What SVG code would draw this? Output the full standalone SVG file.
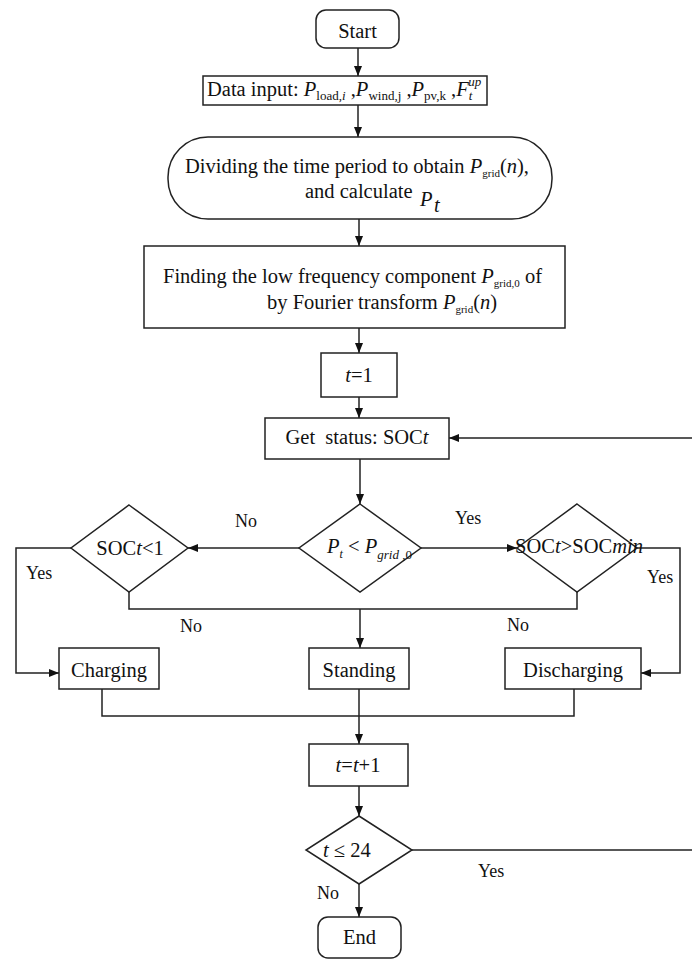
<svg xmlns="http://www.w3.org/2000/svg" width="692" height="960" viewBox="0 0 692 960">
<style>
.s{fill:#fff;stroke:#222;stroke-width:1.5}
.c{fill:none;stroke:#222;stroke-width:1.5}
text{font-family:"Liberation Serif","Times New Roman",serif;fill:#111;font-size:20.5px}
.m{text-anchor:middle}
.i{font-style:italic}
.l{font-size:18px}
</style>
<defs>
<marker id="a" markerWidth="10" markerHeight="8" refX="10" refY="4" orient="auto" markerUnits="userSpaceOnUse">
<path d="M0,0 L10,4 L0,8 z" fill="#111"/>
</marker>
</defs>
<rect width="692" height="960" fill="#fff"/>
<g id="connectors" class="c" marker-end="url(#a)">
<path d="M358,48 V76"/>
<path d="M358,105 V137"/>
<path d="M359,219 V246"/>
<path d="M359,328 V353"/>
<path d="M359,397 V418"/>
<path d="M360,459 V504"/>
<path d="M301,548 H188"/>
<path d="M421,548 H517"/>
<path d="M71,548 H16 V673 H59"/>
<path d="M637,548 H680 V673 H641"/>
<path d="M129,592 V609 H577 V592" marker-end="none"/>
<path d="M360,609 V648"/>
<path d="M102,689 V716 H574 V689" marker-end="none"/>
<path d="M359,689 V744"/>
<path d="M359,786 V816"/>
<path d="M359,884 V917"/>
<path d="M412,850 H700 V438 H449"/>
</g>
<g id="start"><rect class="s" x="316" y="10" width="83" height="38" rx="10"/><text class="m" x="357.5" y="38">Start</text></g>
<g id="data"><rect class="s" x="203" y="76" width="284" height="29"/>
<text x="207" y="96" font-size="21.5">Data input: <tspan class="i">P</tspan><tspan font-size="13" dy="4">load,</tspan><tspan class="i" font-size="13">i</tspan><tspan dy="-4"> ,</tspan><tspan class="i">P</tspan><tspan font-size="13" dy="4">wind,j</tspan><tspan dy="-4"> ,</tspan><tspan class="i">P</tspan><tspan font-size="13" dy="4">pv,k</tspan><tspan dy="-4"> ,</tspan><tspan class="i">F</tspan><tspan class="i" font-size="13" dy="4">t</tspan><tspan class="i" font-size="13" dx="-4" dy="-14">up</tspan></text></g>
<g id="divide"><rect class="s" x="168" y="137" width="384" height="82" rx="40"/>
<text x="185" y="173" font-size="20">Dividing the time period to obtain <tspan class="i">P</tspan><tspan font-size="11" dy="4">grid</tspan><tspan dy="-4">(</tspan><tspan class="i">n</tspan>),</text>
<text x="305" y="198" font-size="20">and calculate</text>
<text x="420" y="206" font-size="28" class="i">P</text><text x="434" y="212" font-size="13" class="i">t</text></g>
<g id="fourier"><rect class="s" x="144" y="246" width="421" height="82"/>
<text x="163" y="283">Finding the low frequency component <tspan class="i">P</tspan><tspan font-size="11" dy="4">grid,0</tspan><tspan dy="-4"> of</tspan></text>
<text x="267" y="309">by Fourier transform <tspan class="i">P</tspan><tspan font-size="11" dy="4">grid</tspan><tspan dy="-4">(</tspan><tspan class="i">n</tspan>)</text></g>
<g id="t1"><rect class="s" x="321" y="353" width="76" height="44"/><text class="m" x="359" y="382"><tspan class="i">t</tspan>=1</text></g>
<g id="status"><rect class="s" x="265" y="418" width="184" height="41"/><text class="m" x="357" y="444" font-size="18" style="white-space:pre">Get  status: SOC<tspan class="i">t</tspan></text></g>
<g id="compare"><path class="s" d="M360,504 L421,548 L360,592 L299,548 Z"/>
<text x="327" y="553" font-size="22"><tspan class="i">P</tspan><tspan class="i" font-size="12" dy="5">t</tspan><tspan dy="-5"> &lt; </tspan><tspan class="i">P</tspan><tspan class="i" font-size="13" dy="6">grid</tspan><tspan font-size="13"> ,0</tspan></text></g>
<g id="socmax"><path class="s" d="M129,505 L188,548 L129,592 L71,548 Z"/><text class="m" x="130" y="555" font-size="20">SOC<tspan class="i">t</tspan>&lt;1</text></g>
<g id="socmin"><path class="s" d="M577,504 L637,548 L577,592 L517,548 Z"/><text class="m" x="579" y="553" font-size="16.5">SOC<tspan class="i">t</tspan>&gt;SOC<tspan class="i">min</tspan></text></g>
<g id="labels">
<text class="l" x="235" y="527">No</text>
<text class="l" x="455" y="524">Yes</text>
<text class="l" x="26" y="579">Yes</text>
<text class="l" x="647" y="583">Yes</text>
<text class="l" x="180" y="632">No</text>
<text class="l" x="507" y="631">No</text>
<text class="l" x="478" y="877">Yes</text>
<text class="l" x="317" y="899">No</text>
</g>
<g id="charging"><rect class="s" x="59" y="648" width="100" height="41"/><text class="m" x="109" y="677">Charging</text></g>
<g id="standing"><rect class="s" x="309" y="648" width="100" height="41"/><text class="m" x="359" y="677">Standing</text></g>
<g id="discharging"><rect class="s" x="505" y="648" width="136" height="41"/><text class="m" x="573" y="677">Discharging</text></g>
<g id="inc"><rect class="s" x="309" y="744" width="99" height="42"/><text class="m" x="358" y="772"><tspan class="i">t</tspan>=<tspan class="i">t</tspan>+1</text></g>
<g id="check"><path class="s" d="M359,816 L412,850 L359,884 L306,850 Z"/><text x="323" y="857" font-size="20"><tspan class="i">t</tspan> ≤ 24</text></g>
<g id="end"><rect class="s" x="318" y="917" width="83" height="41" rx="10"/><text class="m" x="359.5" y="944">End</text></g>
</svg>
